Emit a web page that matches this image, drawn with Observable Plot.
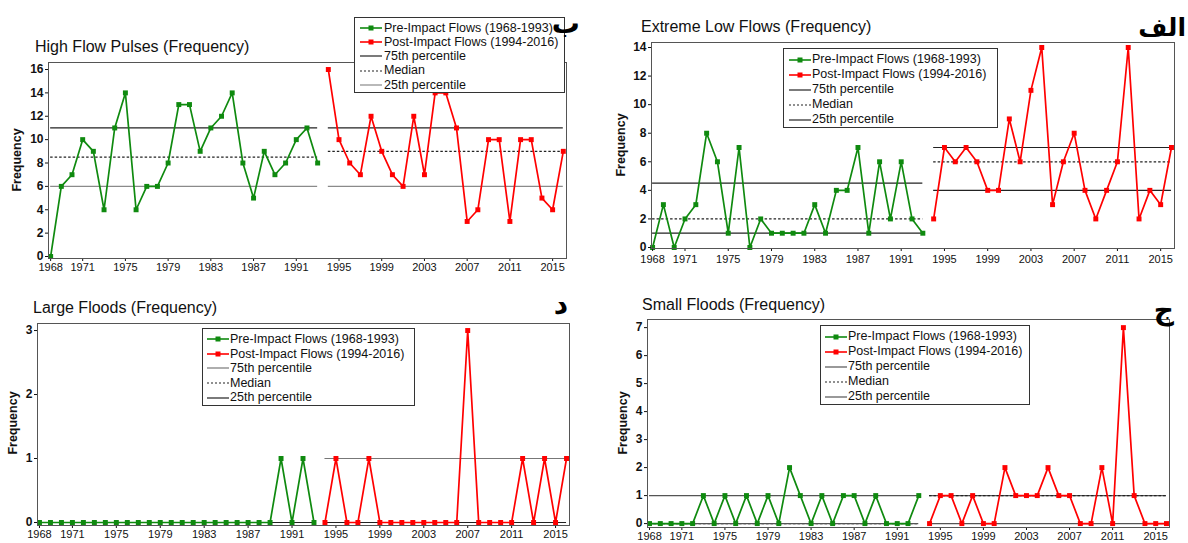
<!DOCTYPE html>
<html><head><meta charset="utf-8">
<script src="https://cdn.jsdelivr.net/npm/d3@7"></script>
<script src="https://cdn.jsdelivr.net/npm/@observablehq/plot@0.6"></script>
<style>
body{margin:0;background:#fff;font-family:Arial,"Liberation Sans",sans-serif;}
#root{position:relative;width:1188px;height:543px;overflow:hidden;background:#fff}
.abs{position:absolute}
.title{font-size:16px;color:#111;white-space:nowrap;line-height:1}
.ylab{font-size:12.5px;font-weight:bold;color:#111;transform:translate(-50%,-50%) rotate(-90deg);white-space:nowrap;line-height:1}
.legend{border:1px solid #333;background:#fff;box-sizing:border-box;font-size:12.5px;color:#111}
.legend .row{display:flex;align-items:center;white-space:nowrap;line-height:1}
.ar{font-family:"DejaVu Sans","Noto Sans",sans-serif;font-weight:bold;line-height:1;white-space:nowrap;color:#000;z-index:5}
svg g[aria-label^="y-axis"] text, svg .yt text{font-weight:bold !important}
</style></head><body><div id="root"></div>
<script>
// ---------- data ----------
const yearsPre = d3.range(1968, 1994);
const yearsPost = d3.range(1994, 2017);
const xTickYears = [1968, 1971, 1975, 1979, 1983, 1987, 1991, 1995, 1999, 2003, 2007, 2011, 2015];

const panelTitles = ["High Flow Pulses (Frequency)", "Extreme Low Flows (Frequency)", "Large Floods (Frequency)", "Small Floods (Frequency)"];
const arabicLabels = ["ب", "الف", "د", "ج"];
const legendLabels = ["Pre-Impact Flows (1968-1993)", "Post-Impact Flows (1994-2016)", "75th percentile", "Median", "25th percentile"];
const yAxisLabel = "Frequency";

const highPre  = [0, 6, 7, 10, 9, 4, 11, 14, 4, 6, 6, 8, 13, 13, 9, 11, 12, 14, 8, 5, 9, 7, 8, 10, 11, 8];
const highPost = [16, 10, 8, 7, 12, 9, 7, 6, 12, 7, 14, 14, 11, 3, 4, 10, 10, 3, 10, 10, 5, 4, 9];
const highPctPre  = [11, 8.5, 6];
const highPctPost = [11, 9, 6];

const lowPre  = [0, 3, 0, 2, 3, 8, 6, 1, 7, 0, 2, 1, 1, 1, 1, 3, 1, 4, 4, 7, 1, 6, 2, 6, 2, 1];
const lowPost = [2, 7, 6, 7, 6, 4, 4, 9, 6, 11, 14, 3, 6, 8, 4, 2, 4, 6, 14, 2, 4, 3, 7];
const lowPctPre  = [4.5, 2, 1];
const lowPctPost = [7, 6, 4];

const largePre  = [0, 0, 0, 0, 0, 0, 0, 0, 0, 0, 0, 0, 0, 0, 0, 0, 0, 0, 0, 0, 0, 0, 1, 0, 1, 0];
const largePost = [0, 1, 0, 0, 1, 0, 0, 0, 0, 0, 0, 0, 0, 3, 0, 0, 0, 0, 1, 0, 1, 0, 1];
const largePctPre  = [0, 0, 0];
const largePctPost = [1, 0, 0];

const smallPre  = [0, 0, 0, 0, 0, 1, 0, 1, 0, 1, 0, 1, 0, 2, 1, 0, 1, 0, 1, 1, 0, 1, 0, 0, 0, 1];
const smallPost = [0, 1, 1, 0, 1, 0, 0, 2, 1, 1, 1, 2, 1, 1, 0, 0, 2, 0, 7, 1, 0, 0, 0];
const smallPctPre  = [1, 0, 0];
const smallPctPost = [1, 1, 0];

// ---------- styles / layout ----------
const GREEN = "#0f8a0f", RED = "#ff0000";
const panels = [
  {pre: highPre, post: highPost, pctPre: highPctPre, pctPost: highPctPost, yTicks: d3.range(0, 17, 2),
   box: {left: 0, top: 0, w: 594, h: 280}, m: {l: 48, r: 28, t: 62, b: 22}, yDom: [-0.17, 16.6], xDom: [1967.8, 2016.3],
   title: {x: 35, y: 39}, ylab: {x: 17, y: 160}, ar: {right: 608, top: 10, size: 28},
   legend: {x: 354, y: 17, w: 211, h: 76, sx: 5, gap: 2}, pctColors: ["#222", "#222", "#8a8a8a"], xPad: 2},
  {pre: lowPre, post: lowPost, pctPre: lowPctPre, pctPost: lowPctPost, yTicks: d3.range(0, 15, 2),
   box: {left: 594, top: 0, w: 594, h: 280}, m: {l: 57, r: 14, t: 42, b: 32}, yDom: [-0.07, 14.35], xDom: [1967.9, 2016.28],
   title: {x: 641, y: 19}, ylab: {x: 621, y: 145}, ar: {right: 2, top: 15, size: 25},
   legend: {x: 783, y: 48, w: 215, h: 80, sx: 5, gap: 1}, pctColors: ["#222", "#222", "#222"], xPad: 4},
  {pre: largePre, post: largePost, pctPre: largePctPre, pctPost: largePctPost, yTicks: [0, 1, 2, 3],
   box: {left: 0, top: 280, w: 594, h: 263}, m: {l: 37, r: 25, t: 43, b: 18}, yDom: [-0.047, 3.11], xDom: [1967.82, 2016.27],
   title: {x: 33, y: 300}, ylab: {x: 13, y: 423}, ar: {right: 620, top: 291, size: 28},
   legend: {x: 202, y: 328, w: 213, h: 78, sx: 4, gap: 1}, pctColors: ["#777", "#222", "#222"], xPad: 2},
  {pre: smallPre, post: smallPost, pctPre: smallPctPre, pctPost: smallPctPost, yTicks: d3.range(0, 8),
   box: {left: 594, top: 280, w: 594, h: 263}, m: {l: 53, r: 19, t: 39, b: 16}, yDom: [-0.14, 7.29], xDom: [1967.81, 2016.28],
   title: {x: 642, y: 297}, ylab: {x: 623, y: 423}, ar: {right: 14, top: 296, size: 28},
   legend: {x: 820, y: 325, w: 210, h: 80, sx: 4, gap: 1}, pctColors: ["#555", "#222", "#555"], xPad: 2}
];

const root = document.getElementById("root");

function swatch(kind, color) {
  const w = 22, h = 10;
  const ns = "http://www.w3.org/2000/svg";
  const s = document.createElementNS(ns, "svg");
  s.setAttribute("width", w); s.setAttribute("height", h);
  s.style.flex = "none";
  const l = document.createElementNS(ns, "line");
  l.setAttribute("x1", 0); l.setAttribute("x2", w); l.setAttribute("y1", h/2); l.setAttribute("y2", h/2);
  l.setAttribute("stroke", color); l.setAttribute("stroke-width", kind === "series" ? 1.6 : 1.2);
  if (kind === "dash") l.setAttribute("stroke-dasharray", "2,2");
  s.appendChild(l);
  if (kind === "series") {
    const r = document.createElementNS(ns, "rect");
    r.setAttribute("x", w/2 - 2.5); r.setAttribute("y", h/2 - 2.5); r.setAttribute("width", 5); r.setAttribute("height", 5);
    r.setAttribute("fill", color);
    s.appendChild(r);
  }
  return s;
}

panels.forEach((p, i) => {
  const pre = yearsPre.map((year, k) => ({year, v: p.pre[k]}));
  const post = yearsPost.map((year, k) => ({year, v: p.post[k]}));
  const rules = (pct, yrs) => pct.map((v, k) => ({v, k, x1: yrs[0], x2: yrs[yrs.length - 1]}));
  const allRules = [...rules(p.pctPre, yearsPre), ...rules(p.pctPost, yearsPost)];
  const marks = [];
  [0, 1, 2].forEach(k => {
    marks.push(Plot.ruleY(allRules.filter(d => d.k === k), {
      y: "v", x1: "x1", x2: "x2", stroke: p.pctColors[k], strokeWidth: 1.2,
      strokeDasharray: k === 1 ? "2.5,2" : null
    }));
  });
  marks.push(
    Plot.line(pre, {x: "year", y: "v", stroke: GREEN, strokeWidth: 1.7}),
    Plot.line(post, {x: "year", y: "v", stroke: RED, strokeWidth: 1.7}),
    Plot.dot(pre, {x: "year", y: "v", symbol: "square", fill: GREEN, r: 2.8}),
    Plot.dot(post, {x: "year", y: "v", symbol: "square", fill: RED, r: 2.8}),
    Plot.axisX({ticks: xTickYears, tickFormat: d => String(d), tickSize: 3, tickPadding: p.xPad, fontSize: 11, label: null}),
    Plot.axisY({ticks: p.yTicks, tickFormat: d => String(d), tickSize: 3, tickPadding: 2, fontSize: 12, fontWeight: "bold", className: "yt", label: null}),
    Plot.frame({stroke: "#555", strokeWidth: 1})
  );
  const svg = Plot.plot({
    width: p.box.w, height: p.box.h,
    marginLeft: p.m.l, marginRight: p.m.r, marginTop: p.m.t, marginBottom: p.m.b,
    x: {domain: p.xDom},
    y: {domain: p.yDom},
    style: {background: "transparent", color: "#111", fontFamily: "Arial, 'Liberation Sans', sans-serif"},
    marks
  });
  svg.classList.add("abs");
  svg.style.left = p.box.left + "px";
  svg.style.top = p.box.top + "px";
  root.appendChild(svg);

  const t = document.createElement("div");
  t.className = "abs title"; t.textContent = panelTitles[i];
  t.style.left = p.title.x + "px"; t.style.top = p.title.y + "px";
  root.appendChild(t);

  const yl = document.createElement("div");
  yl.className = "abs ylab"; yl.textContent = yAxisLabel;
  yl.style.left = p.ylab.x + "px"; yl.style.top = p.ylab.y + "px";
  root.appendChild(yl);

  const lg = document.createElement("div");
  lg.className = "abs legend";
  Object.assign(lg.style, {left: p.legend.x + "px", top: p.legend.y + "px", width: p.legend.w + "px", height: p.legend.h + "px",
    padding: "3px 0 0 " + p.legend.sx + "px", display: "flex", flexDirection: "column", justifyContent: "space-around"});
  const kinds = [["series", GREEN], ["series", RED], ["solid", p.pctColors[0]], ["dash", p.pctColors[1]], ["solid", p.pctColors[2]]];
  legendLabels.forEach((lab, k) => {
    const row = document.createElement("div");
    row.className = "row";
    row.appendChild(swatch(kinds[k][0], kinds[k][1]));
    const sp = document.createElement("span");
    sp.textContent = lab; sp.style.marginLeft = p.legend.gap + "px";
    row.appendChild(sp);
    lg.appendChild(row);
  });
  root.appendChild(lg);

  const ar = document.createElement("div");
  ar.className = "abs ar"; ar.textContent = arabicLabels[i];
  ar.style.right = p.ar.right + "px"; ar.style.top = p.ar.top + "px"; ar.style.fontSize = p.ar.size + "px";
  root.appendChild(ar);
});
</script></body></html>
